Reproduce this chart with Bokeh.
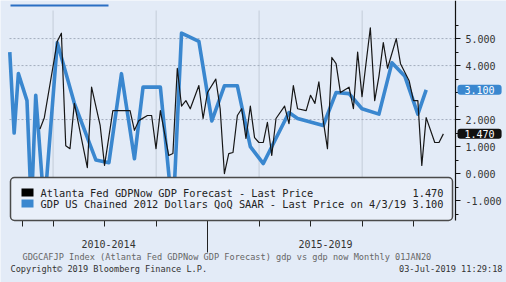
import pandas as pd
from bokeh.plotting import figure
from bokeh.models import (Range1d, FixedTicker, PrintfTickFormatter, Label, BoxAnnotation,
                          ColumnDataSource)
from bokeh.embed import file_html
from bokeh.resources import INLINE

# ---- data ----
gdpnow_months = ["2011-09", "2011-10", "2012-01", "2012-02", "2012-03", "2012-04", "2012-05",
                 "2012-08", "2012-09", "2012-11", "2012-12", "2013-02", "2013-06", "2013-07",
                 "2013-08", "2013-10", "2013-11", "2013-12", "2014-01", "2014-03", "2014-04",
                 "2014-05", "2014-06", "2014-07", "2014-08", "2014-10", "2014-11", "2014-12",
                 "2015-02", "2015-03", "2015-04", "2015-05", "2015-06", "2015-07", "2015-08",
                 "2015-09", "2015-10", "2015-11", "2015-12", "2016-01", "2016-02", "2016-03",
                 "2016-04", "2016-06", "2016-07", "2016-08", "2016-09", "2016-11", "2016-12",
                 "2017-01", "2017-02", "2017-03", "2017-04", "2017-05", "2017-06", "2017-07",
                 "2017-09", "2017-10", "2017-11", "2017-12", "2018-02", "2018-03", "2018-04",
                 "2018-05", "2018-06", "2018-08", "2018-09", "2018-11", "2018-12", "2019-01",
                 "2019-02", "2019-03", "2019-05", "2019-06", "2019-07"]
gdpnow_values = [1.65, 2.07, 4.9, 5.2, 1.03, 0.92, 2.6,
                 0.22, 3.2, 1.78, 0.3, 2.33, 2.33, 1.6,
                 1.96, 2.15, 2.15, 0.92, 2.33, 0.67, 0.74,
                 3.9, 2.5, 2.7, 2.4, 3.26, 2.04, 3.0,
                 3.5, 2.4, 0.0, 0.74, 0.78, 2.15, 2.4,
                 1.3, 2.5, 1.33, 1.15, 1.15, 1.9, 0.67,
                 2.04, 2.5, 1.85, 3.26, 2.4, 2.33, 2.9,
                 2.6, 3.4, 1.96, 0.92, 4.3, 4.07, 3.0,
                 3.2, 2.4, 4.5, 2.85, 5.4, 2.7, 3.6,
                 4.85, 3.9, 5.0, 4.07, 3.44, 2.7, 2.7,
                 0.3, 2.07, 1.15, 1.15, 1.47]

gdp_months = ["2011-02", "2011-03", "2011-04", "2011-06", "2011-07", "2011-08", "2011-10",
              "2012-01", "2012-05", "2012-10", "2013-01", "2013-04", "2013-07", "2013-09",
              "2014-01", "2014-04", "2014-06", "2014-10", "2015-01", "2015-04", "2015-07",
              "2015-10", "2016-01", "2016-07", "2016-09", "2017-03", "2017-06", "2017-09",
              "2017-12", "2018-04", "2018-07", "2018-10", "2019-01", "2019-03"]
gdp_values = [4.5, 1.5, 3.7, 2.7, -1.3, 2.9, -1.3,
              4.85, 2.6, 0.5, 0.4, 3.7, 0.55, 3.2,
              3.2, -1.6, 5.2, 4.9, 1.95, 3.25, 3.25,
              1.0, 0.37, 2.26, 2.04, 1.78, 3.0, 2.96,
              2.4, 2.2, 4.1, 3.6, 2.2, 3.1]

series_names = ["Atlanta Fed GDPNow GDP Forecast - Last Price",
                "GDP US Chained 2012 Dollars QoQ SAAR - Last Price on 4/3/19"]
last_values = ["1.470", "3.100"]
last_numbers = [1.47, 3.10]

year_ticks = ["2011-06-01", "2012-01-01", "2013-01-01", "2014-01-01", "2015-01-01",
              "2016-01-01", "2017-01-01", "2018-01-01", "2019-01-01"]
split_date = "2015-01-01"
vgrid_dates = ["2012-01-01", "2014-01-01", "2016-01-01", "2018-01-01"]
hgrid_levels = [2, 4, 5]
y_major = [-1, 0, 1, 2, 4, 5]
y_minor = [-1.5, -0.5, 0.5, 1.5, 2.5, 3, 3.5, 4.5, 5.5]
period_labels = ["2010-2014", "2015-2019"]
x_start, x_end = "2011-02-26", "2019-10-25"
y_start, y_end = -1.74, 6.04

footer_1 = "GDGCAFJP Index (Atlanta Fed GDPNow GDP Forecast) gdp vs gdp now  Monthly 01JAN20"
footer_2 = "Copyright\u00a9 2019 Bloomberg Finance L.P."
footer_3 = "03-Jul-2019 11:29:18"

# ---- helpers ----
def month_end(months):
    return pd.to_datetime(months) + pd.offsets.MonthEnd(0)

def ms(d):
    return (pd.Timestamp(d) - pd.Timestamp("1970-01-01")) / pd.Timedelta(milliseconds=1)

def screen_box(l, r, t, b, **kw):
    return BoxAnnotation(left=l, right=r, top=H - t, bottom=H - b,
                         left_units="screen", right_units="screen",
                         top_units="screen", bottom_units="screen", **kw)

# ---- page geometry (pixels) ----
W, H = 506, 282
PL, PR, PT, PB = 9, 455, 10, 220          # plot-area box inside the canvas
LEG_L, LEG_R, LEG_T = 10, 452, 177        # legend box
ROWS = [192, 203]                          # legend row centres

xs, xe = ms(x_start), ms(x_end)
per_x = (xe - xs) / (PR - PL)
per_y = (y_end - y_start) / (PB - PT)
y_top = y_end + PT * per_y

BG = "#e3ebf7"
BLUE = "#3a87cf"
MONO = "DejaVu Sans Mono"
COLORS = ["#000000", BLUE]

p = figure(width=W, height=H, x_axis_type="datetime", y_axis_location="right",
           output_backend="svg", toolbar_location=None,
           x_range=Range1d(xs - PL * per_x, xe + (W - PR) * per_x),
           y_range=Range1d(y_start - (H - PB) * per_y, y_top),
           min_border=0, min_border_left=0, min_border_right=0,
           min_border_top=0, min_border_bottom=0)
p.background_fill_color = BG
p.border_fill_color = BG
p.outline_line_color = None
p.xgrid.visible = False
p.ygrid.visible = False

# grid lines limited to the plot area
p.segment(x0=[pd.Timestamp(d) for d in vgrid_dates], x1=[pd.Timestamp(d) for d in vgrid_dates],
          y0=y_start, y1=y_end, line_color="#c3ccd9", line_width=1)
p.segment(x0=pd.Timestamp(x_start), x1=pd.Timestamp(x_end), y0=hgrid_levels, y1=hgrid_levels,
          line_color="#a3adbd", line_width=1, line_dash="2 2")

# x axis drawn at the plot-area bottom: long split tick + yearly short ticks
xa = p.xaxis[0]
xa.fixed_location = y_start
xa.ticker = FixedTicker(ticks=[ms(split_date)], minor_ticks=[ms(d) for d in year_ticks])
xa.axis_line_color = None
xa.major_tick_out = 32
xa.major_tick_in = 0
xa.minor_tick_out = 6
xa.minor_tick_in = 0
xa.major_tick_line_color = "#222222"
xa.minor_tick_line_color = "#222222"
xa.major_label_text_color = None

# y axis drawn at the plot-area right edge
ya = p.yaxis[0]
ya.fixed_location = xe
ya.bounds = (y_start, y_top)
ya.ticker = FixedTicker(ticks=y_major, minor_ticks=y_minor)
ya.formatter = PrintfTickFormatter(format="%.3f")
ya.axis_line_color = "#111111"
ya.axis_line_width = 1.2
ya.major_tick_out = 5
ya.major_tick_in = 0
ya.minor_tick_out = 3
ya.minor_tick_in = 0
ya.major_tick_line_color = "#111111"
ya.minor_tick_line_color = "#111111"
ya.major_label_standoff = 5
ya.major_label_text_font = MONO
ya.major_label_text_font_size = "10px"
ya.major_label_text_color = "#333333"

# series
gdp_src = ColumnDataSource(dict(x=month_end(gdp_months), y=gdp_values))
now_src = ColumnDataSource(dict(x=month_end(gdpnow_months), y=gdpnow_values))
p.line("x", "y", source=gdp_src, line_color=BLUE, line_width=3.6, line_join="round")
p.line("x", "y", source=now_src, line_color="#161616", line_width=1.2, line_join="round")

# legend: framed box, colour swatches, names and last values
box = screen_box(LEG_L, LEG_R, LEG_T, PB, fill_color="#e9eff9", fill_alpha=1,
                 line_color="#4a4a4a", line_width=1.5, line_alpha=1)
if "border_radius" in BoxAnnotation.properties():
    box.border_radius = 4
p.add_layout(box)
for name, val, col, row in zip(series_names, last_values, COLORS, ROWS):
    p.add_layout(screen_box(21, 33, row - 4, row + 4, fill_color=col, fill_alpha=1,
                            line_color=None, level="overlay"))
    p.add_layout(Label(x=40, y=H - row, x_units="screen", y_units="screen", text=name,
                       text_align="left", text_baseline="middle", text_font=MONO,
                       text_font_size="10.3px", text_color="#222222", level="overlay"))
    p.add_layout(Label(x=LEG_R - 9, y=H - row, x_units="screen", y_units="screen", text=val,
                       text_align="right", text_baseline="middle", text_font=MONO,
                       text_font_size="10.3px", text_color="#222222", level="overlay"))

# last-price callouts on the right axis
try:
    Label(padding=dict(left=7, right=7, top=1, bottom=1))
    pad = dict(left=7, right=7, top=1, bottom=1)
except Exception:
    pad = 2
for txt, val, col in zip(last_values, last_numbers, ["#111111", BLUE]):
    p.add_layout(Label(x=PR + 2, y=val, x_units="screen", y_units="data", text=txt,
                       text_align="left", text_baseline="middle", text_font=MONO,
                       text_font_size="10px", text_color="white",
                       background_fill_color=col, background_fill_alpha=1,
                       padding=pad, border_radius=3, level="overlay"))

# period labels under the axis
xs0 = pd.Timestamp(x_start)
xsp = pd.Timestamp(split_date)
xlast = month_end([gdpnow_months[-1]])[0]
centers = [xs0 + (xsp - xs0) / 2, xsp + (xlast - xsp) / 2]
for txt, c in zip(period_labels, centers):
    p.add_layout(Label(x=c, y=H - 243, x_units="data", y_units="screen", text=txt,
                       text_align="center", text_baseline="middle", text_font=MONO,
                       text_font_size="10px", text_color="#333333"))

# footer
p.add_layout(Label(x=22, y=H - 256, x_units="screen", y_units="screen", text=footer_1,
                   text_baseline="middle", text_font=MONO, text_font_size="8.6px",
                   text_color="#666666"))
p.add_layout(Label(x=10, y=H - 268, x_units="screen", y_units="screen", text=footer_2,
                   text_baseline="middle", text_font=MONO, text_font_size="8.6px",
                   text_color="#333333"))
p.add_layout(Label(x=502, y=H - 268, x_units="screen", y_units="screen", text=footer_3,
                   text_align="right", text_baseline="middle", text_font=MONO,
                   text_font_size="8.6px", text_color="#333333"))

# underline of the (cropped-away) title at the very top
p.add_layout(screen_box(10, 108, 4, 6, fill_color="#2a6fc4", fill_alpha=1, line_color=None))

open("out.html", "w").write(file_html(p, INLINE))
